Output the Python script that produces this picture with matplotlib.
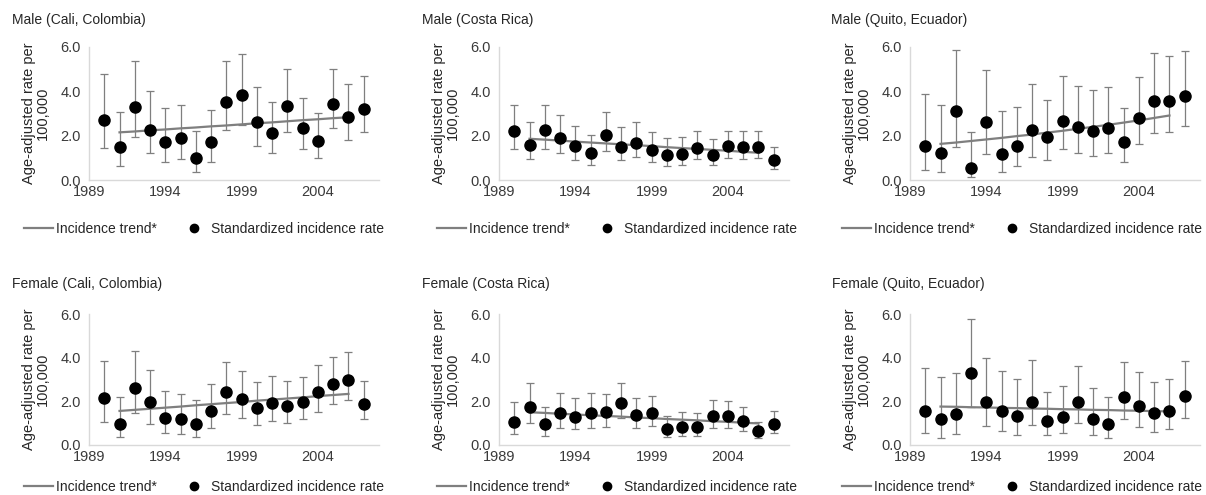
import matplotlib
matplotlib.use("Agg")
import matplotlib.pyplot as plt
from matplotlib.lines import Line2D

plt.rcParams['font.family'] = ['Liberation Sans', 'DejaVu Sans']

years = list(range(1990, 2008))
trend_years = list(range(1991, 2007))
xticks = [1989, 1994, 1999, 2004]
yticks = [0.0, 2.0, 4.0, 6.0]

titles = ["Male (Cali, Colombia)", "Male (Costa Rica)", "Male (Quito, Ecuador)",
          "Female (Cali, Colombia)", "Female (Costa Rica)", "Female (Quito, Ecuador)"]

# Male Cali
m_cali_rate = [2.71, 1.51, 3.30, 2.27, 1.70, 1.88, 0.99, 1.70, 3.54, 3.82, 2.61, 2.12, 3.32, 2.33, 1.78, 3.44, 2.83, 3.21]
m_cali_low = [1.44, 0.64, 1.96, 1.20, 0.81, 0.96, 0.37, 0.83, 2.27, 2.47, 1.54, 1.23, 2.18, 1.41, 0.99, 2.33, 1.79, 2.18]
m_cali_up = [4.79, 3.07, 5.36, 4.00, 3.24, 3.38, 2.22, 3.17, 5.36, 5.70, 4.18, 3.54, 4.99, 3.72, 3.02, 5.02, 4.31, 4.67]
m_cali_trend = [2.15, 2.19, 2.24, 2.28, 2.33, 2.37, 2.42, 2.46, 2.51, 2.56, 2.60, 2.65, 2.70, 2.74, 2.79, 2.83]

# Male Costa Rica
m_cr_rate = [2.19, 1.60, 2.25, 1.90, 1.54, 1.20, 2.05, 1.50, 1.66, 1.35, 1.14, 1.18, 1.45, 1.14, 1.53, 1.50, 1.50, 0.90]
m_cr_low = [1.38, 0.93, 1.42, 1.20, 0.88, 0.66, 1.29, 0.88, 1.03, 0.81, 0.63, 0.69, 0.93, 0.66, 0.97, 0.96, 0.97, 0.51]
m_cr_up = [3.39, 2.62, 3.37, 2.92, 2.43, 2.02, 3.09, 2.40, 2.61, 2.16, 1.89, 1.93, 2.23, 1.83, 2.22, 2.20, 2.20, 1.50]
m_cr_trend = [1.86, 1.82, 1.78, 1.73, 1.69, 1.65, 1.61, 1.57, 1.53, 1.48, 1.44, 1.40, 1.36, 1.32, 1.27, 1.23]

# Male Quito
m_qu_rate = [1.52, 1.22, 3.12, 0.55, 2.60, 1.19, 1.52, 2.24, 1.94, 2.64, 2.39, 2.21, 2.33, 1.70, 2.81, 3.58, 3.58, 3.79]
m_qu_low = [0.45, 0.37, 1.48, 0.13, 1.18, 0.37, 0.63, 1.04, 0.91, 1.39, 1.24, 1.07, 1.21, 0.82, 1.61, 2.12, 2.16, 2.42]
m_qu_up = [3.88, 3.39, 5.88, 2.16, 4.97, 3.10, 3.30, 4.34, 3.63, 4.69, 4.24, 4.07, 4.18, 3.25, 4.64, 5.73, 5.60, 5.82]
m_qu_trend = [1.63, 1.69, 1.76, 1.83, 1.90, 1.98, 2.05, 2.14, 2.22, 2.31, 2.40, 2.49, 2.59, 2.69, 2.80, 2.91]

# Female Cali
f_cali_rate = [2.17, 0.96, 2.60, 1.95, 1.25, 1.18, 0.96, 1.56, 2.41, 2.11, 1.69, 1.94, 1.80, 1.97, 2.41, 2.79, 2.98, 1.86]
f_cali_low = [1.04, 0.37, 1.45, 0.96, 0.56, 0.50, 0.37, 0.78, 1.44, 1.24, 0.93, 1.08, 1.02, 1.21, 1.51, 1.86, 2.05, 1.18]
f_cali_up = [3.83, 2.18, 4.32, 3.44, 2.49, 2.35, 2.08, 2.81, 3.80, 3.40, 2.89, 3.15, 2.95, 3.11, 3.68, 4.05, 4.27, 2.92]
f_cali_trend = [1.56, 1.61, 1.66, 1.71, 1.76, 1.82, 1.87, 1.92, 1.97, 2.03, 2.08, 2.13, 2.18, 2.24, 2.29, 2.34]

# Female Costa Rica
f_cr_rate = [1.07, 1.76, 0.95, 1.47, 1.27, 1.48, 1.50, 1.91, 1.36, 1.48, 0.75, 0.84, 0.81, 1.34, 1.34, 1.11, 0.63, 0.98]
f_cr_low = [0.50, 1.02, 0.41, 0.79, 0.72, 0.79, 0.82, 1.24, 0.79, 0.87, 0.37, 0.41, 0.41, 0.79, 0.79, 0.63, 0.34, 0.55]
f_cr_up = [1.98, 2.82, 1.76, 2.40, 2.14, 2.37, 2.32, 2.85, 2.14, 2.23, 1.34, 1.50, 1.45, 2.08, 2.02, 1.73, 1.04, 1.54]
f_cr_trend = [1.50, 1.47, 1.43, 1.40, 1.36, 1.33, 1.30, 1.26, 1.23, 1.19, 1.16, 1.13, 1.09, 1.06, 1.02, 0.99]

# Female Quito
f_qu_rate = [1.54, 1.19, 1.42, 3.31, 1.98, 1.57, 1.31, 1.98, 1.10, 1.30, 1.97, 1.18, 0.95, 2.18, 1.77, 1.45, 1.57, 2.26]
f_qu_low = [0.55, 0.34, 0.50, 1.76, 0.86, 0.63, 0.46, 0.90, 0.46, 0.53, 0.99, 0.46, 0.32, 1.18, 0.81, 0.61, 0.75, 1.22]
f_qu_up = [3.54, 3.11, 3.28, 5.76, 4.00, 3.37, 3.04, 3.89, 2.44, 2.72, 3.62, 2.60, 2.21, 3.80, 3.33, 2.89, 3.04, 3.85]
f_qu_trend = [1.76, 1.75, 1.73, 1.72, 1.70, 1.69, 1.67, 1.66, 1.64, 1.63, 1.61, 1.60, 1.58, 1.57, 1.55, 1.54]

panels = [
    (m_cali_rate, m_cali_low, m_cali_up, m_cali_trend),
    (m_cr_rate, m_cr_low, m_cr_up, m_cr_trend),
    (m_qu_rate, m_qu_low, m_qu_up, m_qu_trend),
    (f_cali_rate, f_cali_low, f_cali_up, f_cali_trend),
    (f_cr_rate, f_cr_low, f_cr_up, f_cr_trend),
    (f_qu_rate, f_qu_low, f_qu_up, f_qu_trend),
]

W, H = 1206, 495
fig = plt.figure(figsize=(W / 100, H / 100), dpi=100)

col_x = [89, 499, 910]
ax_w = 290
rows = [(47, 180), (314, 445)]
title_pos = [(12, 20), (422, 20), (831, 20), (12, 284), (422, 284), (832, 284)]
legend_cx = [204, 617, 1022]
legend_y = [229, 487]

GRAY = "#7f7f7f"
TXT = "#3a3a3a"

for i, (rate, low, up, trend) in enumerate(panels):
    r, c = divmod(i, 3)
    top, bot = rows[r]
    left = col_x[c]
    ax = fig.add_axes([left / W, 1 - bot / H, ax_w / W, (bot - top) / H])
    yerr = [[rv - lv for rv, lv in zip(rate, low)], [uv - rv for rv, uv in zip(rate, up)]]
    ax.errorbar(years, rate, yerr=yerr, fmt='none', ecolor=GRAY, elinewidth=0.9,
                capsize=3, capthick=0.9, zorder=2)
    ax.plot(trend_years, trend, color=GRAY, lw=1.6, zorder=3)
    ax.plot(years, rate, 'o', color='black', markersize=8, zorder=4)
    ax.set_xlim(1989, 2008)
    ax.set_ylim(0, 6)
    ax.set_xticks(xticks)
    ax.set_xticklabels([str(t) for t in xticks])
    ax.set_yticks(yticks)
    ax.set_yticklabels([f"{t:.1f}" for t in yticks])
    ax.tick_params(axis='x', length=0, labelsize=10.5, colors=TXT, pad=3.5)
    ax.tick_params(axis='y', length=0, labelsize=10.5, colors=TXT, pad=6)
    for s in ['top', 'right']:
        ax.spines[s].set_visible(False)
    for s in ['left', 'bottom']:
        ax.spines[s].set_color('#d9d9d9')
        ax.spines[s].set_linewidth(1)
    ax.set_ylabel("Age-adjusted rate per\n100,000", fontsize=10.5, color='#262626',
                  linespacing=1.0)
    ax.yaxis.set_label_coords(-0.135, 0.5)
    tx, ty = title_pos[i]
    fig.text(tx / W, 1 - ty / H, titles[i], fontsize=10, color='#262626',
             ha='left', va='center')
    handles = [Line2D([0], [0], color=GRAY, lw=1.6),
               Line2D([0], [0], marker='o', color='black', lw=0, markersize=6)]
    fig.legend(handles, ["Incidence trend*", "Standardized incidence rate"],
               loc='center', bbox_to_anchor=(legend_cx[c] / W, 1 - legend_y[r] / H),
               ncol=2, frameon=False, fontsize=10, handlelength=2.1,
               handletextpad=0.2, columnspacing=1.6, borderaxespad=0, borderpad=0,
               labelcolor='#262626')

fig.savefig("out.png", dpi=100)
